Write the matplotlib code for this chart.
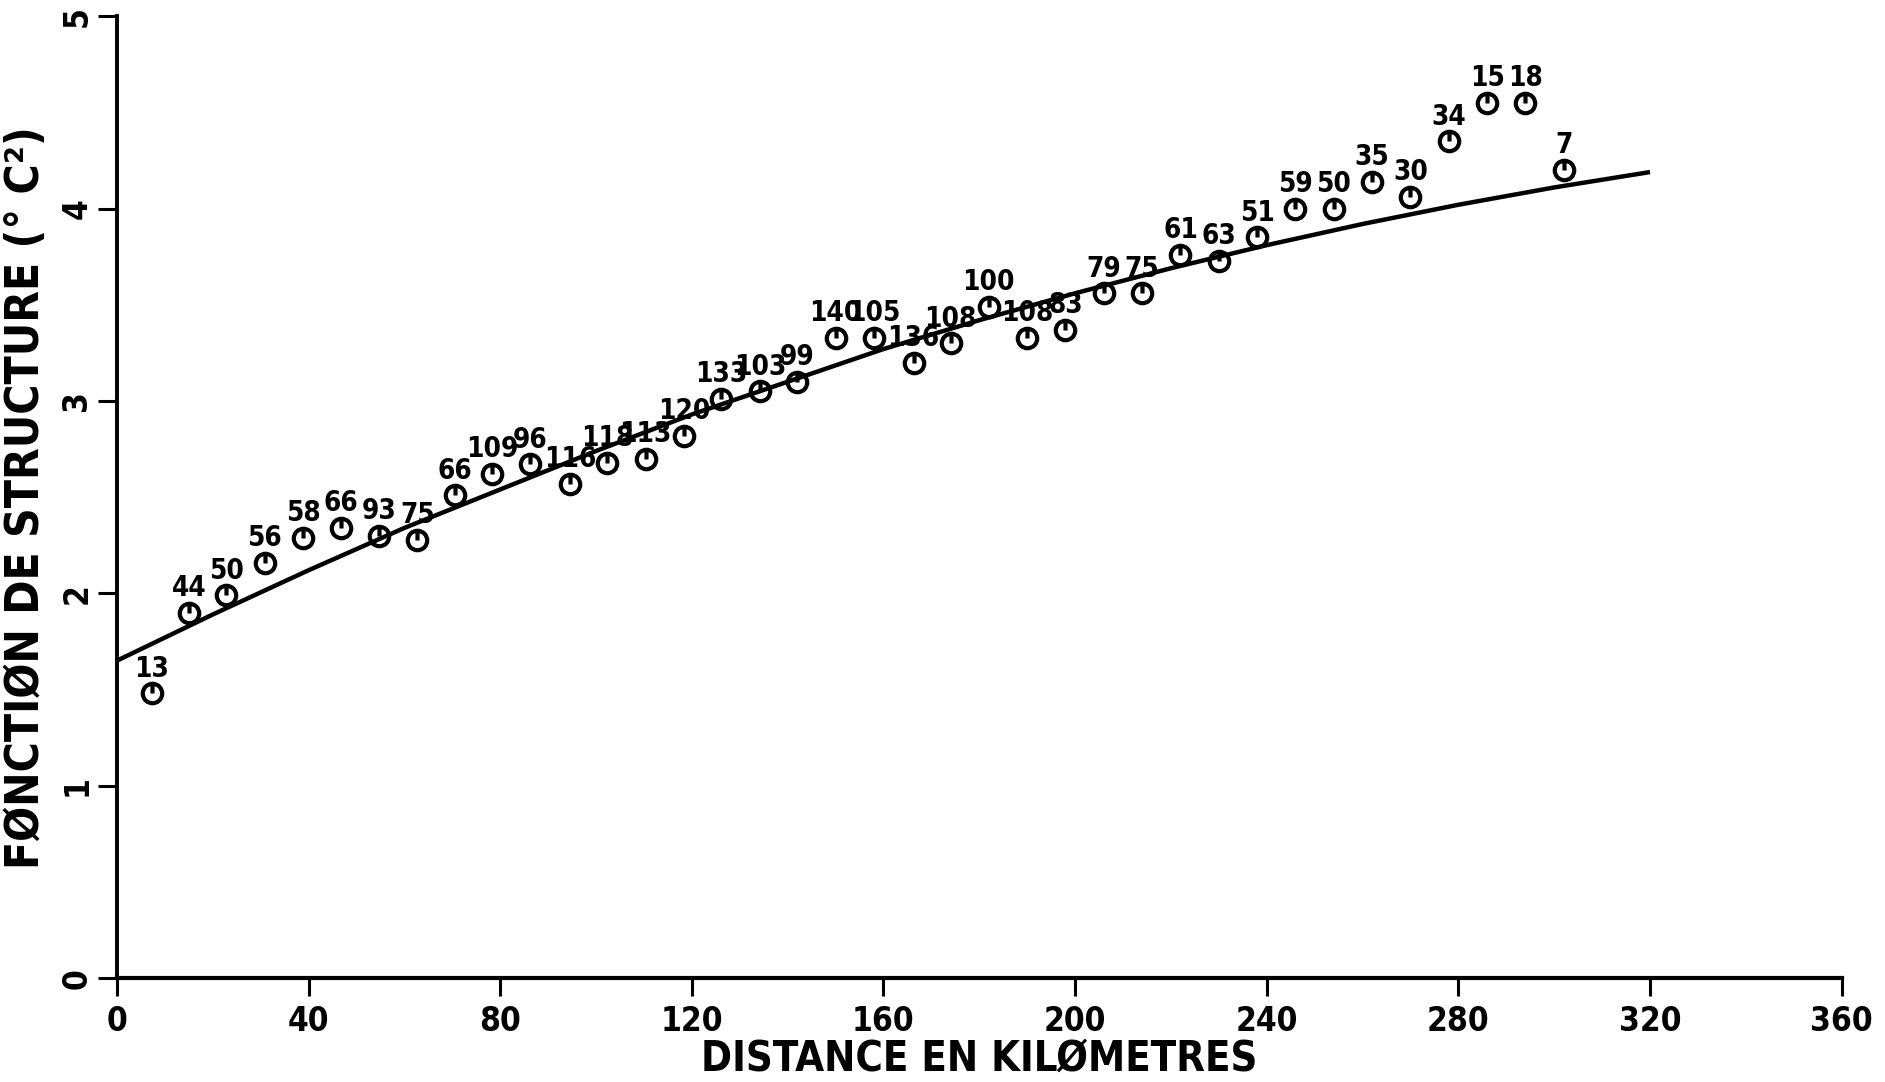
import numpy as np
import matplotlib.pyplot as plt
from matplotlib.path import Path

# distances (km), structure function values and pair counts
distance = [7.3, 15.1, 22.8, 30.9, 38.9, 46.7, 54.7, 62.7, 70.5, 78.3,
            86.3, 94.6, 102.4, 110.4, 118.4, 126.2, 134.2, 142.0, 150.0, 158.0,
            166.3, 174.0, 182.0, 190.0, 198.0, 206.0, 214.0, 222.0, 230.0, 238.0,
            246.0, 254.0, 262.0, 270.0, 278.0, 286.0, 294.0, 302.0]
structure = [1.48, 1.90, 1.99, 2.16, 2.29, 2.34, 2.30, 2.28, 2.51, 2.62,
             2.67, 2.57, 2.68, 2.70, 2.82, 3.01, 3.05, 3.10, 3.33, 3.33,
             3.20, 3.30, 3.49, 3.33, 3.37, 3.56, 3.56, 3.76, 3.73, 3.85,
             4.00, 4.00, 4.14, 4.06, 4.35, 4.55, 4.55, 4.20]
counts = [13, 44, 50, 56, 58, 66, 93, 75, 66, 109,
          96, 116, 118, 113, 120, 133, 103, 99, 140, 105,
          136, 108, 100, 108, 83, 79, 75, 61, 63, 51,
          59, 50, 35, 30, 34, 15, 18, 7]

# fitted curve
curve_x = [0, 20, 40, 60, 80, 100, 120, 140, 160, 180, 200, 220, 240, 260, 280, 300, 320]
curve_y = [1.65, 1.89, 2.12, 2.34, 2.54, 2.74, 2.93, 3.10, 3.27, 3.42, 3.56, 3.69, 3.81, 3.92, 4.02, 4.11, 4.19]

xticks = [0, 40, 80, 120, 160, 200, 240, 280, 320, 360]
yticks = [0, 1, 2, 3, 4, 5]

plt.rcParams['font.family'] = ['DejaVu Sans']
plt.rcParams['font.stretch'] = 'condensed'
plt.rcParams['font.weight'] = 'bold'

# circle with a little stroke from the top to the centre
circ = Path.unit_circle()
verts = np.concatenate([circ.vertices, [[0, 1], [0, 0]]])
codes = np.concatenate([circ.codes, [Path.MOVETO, Path.LINETO]])
mark = Path(verts, codes)

fig = plt.figure(figsize=(18.85, 10.82), dpi=100)
ax = fig.add_axes([0.062, 0.096, 0.915, 0.889])

ax.plot(curve_x, curve_y, color='black', lw=3.2, solid_capstyle='butt')
ax.plot(distance, structure, linestyle='none', marker=mark, ms=14,
        mfc='none', mec='black', mew=3)

for x, y, n in zip(distance, structure, counts):
    ax.annotate(str(n), (x, y), xytext=(0, 12), textcoords='offset points',
                ha='center', va='baseline', fontsize=20, fontweight='bold')

ax.set_xlim(0, 360)
ax.set_ylim(0, 5)
ax.set_xticks(xticks)
ax.set_yticks(yticks)
ax.spines['top'].set_visible(False)
ax.spines['right'].set_visible(False)
ax.spines['left'].set_linewidth(2.8)
ax.spines['bottom'].set_linewidth(3)
ax.tick_params(axis='x', length=13, width=2.2, labelsize=24, pad=6)
ax.tick_params(axis='y', length=14, width=2.2, labelsize=24, pad=3, labelrotation=90)
for lab in ax.get_yticklabels():
    lab.set_va('center')

ax.set_xlabel('DISTANCE EN KILØMETRES', fontsize=30, fontweight='bold', labelpad=0)
ax.set_ylabel('FØNCTIØN DE STRUCTURE (° C²)', fontsize=33, fontweight='bold', labelpad=8)

fig.savefig('out.png', dpi=100)
